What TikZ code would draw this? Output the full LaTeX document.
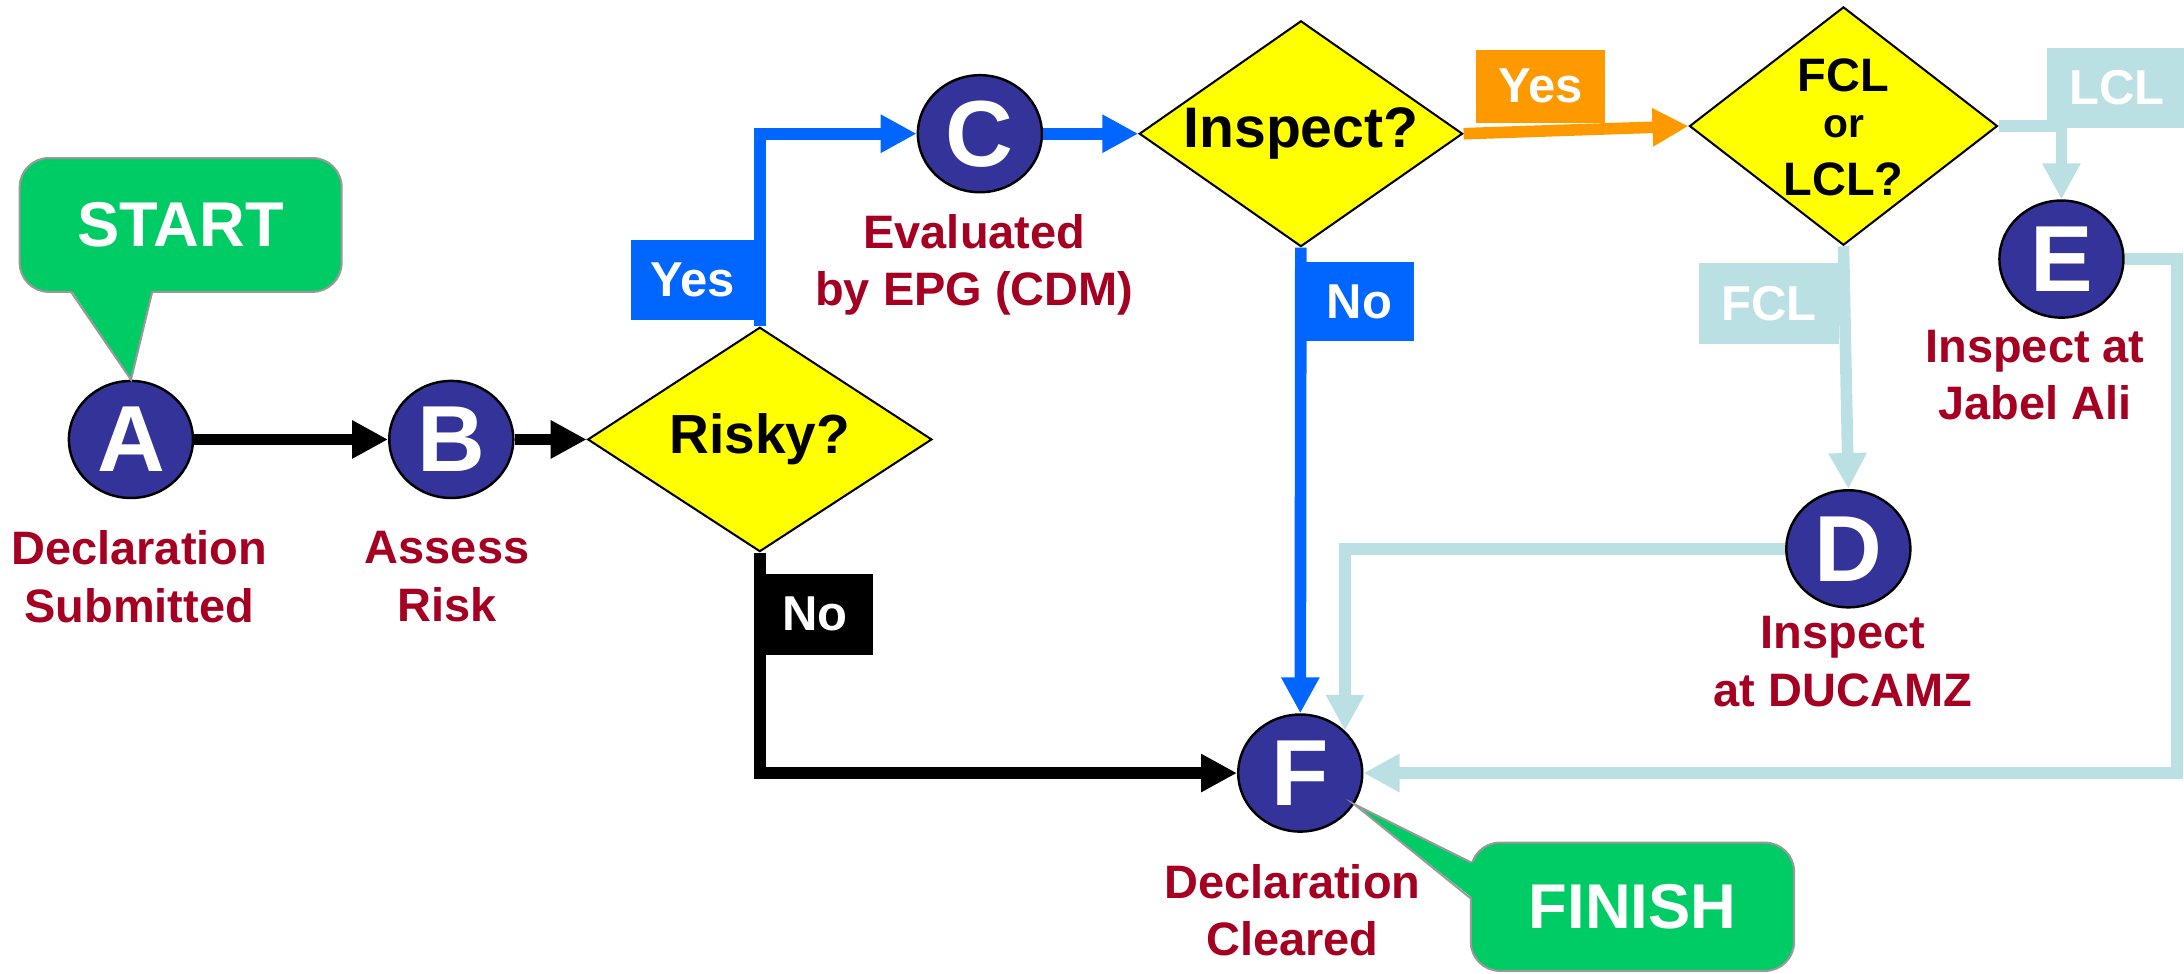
\documentclass[tikz,border=0pt]{standalone}
\usepackage{fontspec}
\setmainfont{Liberation Sans}
\usetikzlibrary{shapes.geometric,arrows.meta}
\definecolor{stagefill}{HTML}{333399}
\definecolor{capred}{HTML}{A50021}
\definecolor{askyellow}{HTML}{FFFF00}
\definecolor{yesblue}{HTML}{0066FF}
\definecolor{yesorange}{HTML}{FF9900}
\definecolor{portblue}{HTML}{BBE0E3}
\definecolor{callgreen}{HTML}{00CC66}
\tikzset{
	stage/.style={ellipse,draw=black,line width=0.6pt,fill=stagefill,text=white,
		font=\bfseries\fontsize{23}{23}\selectfont,inner sep=0pt,
		minimum width=1.068cm,minimum height=1.008cm},
	ask/.style={diamond,draw=black,line width=0.5pt,fill=askyellow,inner sep=0pt,aspect=1.45,
		font=\bfseries\fontsize{14}{14}\selectfont},
	caption/.style={text=capred,align=center,font=\bfseries\fontsize{11.5}{14}\selectfont},
	tag/.style={fill=#1,text=white,inner sep=0pt,font=\bfseries\fontsize{12}{12}\selectfont},
	callbox/.style={rounded corners=0.25cm,fill=callgreen,draw=gray!80,line width=0.5pt,
		text=white,font=\bfseries\fontsize{15.5}{15.5}\selectfont},
	flow/.style={line width=0.1cm,-{Triangle[length=0.31cm,width=0.31cm]}},
}
\begin{document}
\begin{tikzpicture}[x=0.012cm,y=-0.012cm]
	\useasboundingbox (0,0) rectangle (1568,699);

	% stages
	\node[stage] (A) at (94,315.5) {A};
	\node[stage] (B) at (324,315.5) {B};
	\node[stage] (C) at (703.5,96) {C};
	\node[stage] (D) at (1327,394) {D};
	\node[stage] (E) at (1480,186) {E};
	\node[stage] (F) at (933.5,555) {F};

	% questions
	\node[ask,minimum width=2.964cm,minimum height=1.932cm,font=\bfseries\fontsize{13.5}{13.5}\selectfont] (risky) at (545.5,315.5) {Risky?};
	\node[ask,minimum width=2.784cm,minimum height=1.944cm] (inspect) at (934,96) {Inspect?};
	\node[ask,aspect=1.3,minimum width=2.652cm,minimum height=2.052cm] (fcl) at (1323.5,90.5) {};
	\node[font=\bfseries\fontsize{11.5}{11.5}\selectfont,inner sep=0pt,anchor=base] (fclTxt) at (1323.5,66) {FCL};
	\node[font=\bfseries\fontsize{10}{10}\selectfont,inner sep=0pt,anchor=base] (orTxt) at (1323.5,99) {or};
	\node[font=\bfseries\fontsize{11.5}{11.5}\selectfont,inner sep=0pt,anchor=base] (lclTxt) at (1323.5,140) {LCL?};

	% captions
	\node[caption] (capA) at (100,414) {Declaration\\Submitted};
	\node[caption] (capB) at (321,414) {Assess\\Risk};
	\node[caption] (capC) at (699.5,190) {Evaluated\\by EPG (CDM)};
	\node[caption] (capD) at (1323,475) {Inspect\\at DUCAMZ};
	\node[caption] (capE) at (1461,269.5) {Inspect at\\Jabel Ali};
	\node[caption] (capF) at (928,653.5) {Declaration\\Cleared};

	% connectors
	\draw[flow] (A) -- (B);
	\draw[flow] (B) -- (risky);
	\draw[flow,yesblue] (risky.north) |- (C);
	\draw[flow,yesblue] (C) -- (inspect);
	\draw[flow,yesblue] (inspect) -- (F);
	\draw[flow] (risky.south) |- (F);
	\draw[flow,yesorange] (inspect.east) -- (fcl.west);
	\draw[flow,portblue] (fcl.south) -- (D.north);
	\draw[flow,portblue] (fcl.east) -| (E.north);
	\coordinate (eturn) at (1563,186);
	\draw[flow,portblue] (E.east) -- (eturn) |- (F.east);
	\draw[flow,portblue] (D.west) -| (F.north east);

	% tags on the connectors
	\node[tag=yesblue,minimum width=1.056cm,minimum height=0.696cm] (yesRisky) at (497,201) {Yes};
	\node[tag=black,minimum width=0.996cm,minimum height=0.696cm] (noRisky) at (585,441) {No};
	\node[tag=yesblue,minimum width=0.936cm,minimum height=0.684cm] (noInspect) at (976,216.5) {No};
	\node[tag=yesorange,minimum width=1.104cm,minimum height=0.63cm] (yesInspect) at (1106,62) {Yes};
	\node[tag=portblue,minimum width=1.2cm,minimum height=0.696cm] (fclTag) at (1270,218) {FCL};
	\node[tag=portblue,minimum width=1.2cm,minimum height=0.69cm] (lclTag) at (1520,63) {LCL};

	% start and finish callouts
	\node[callbox,minimum width=2.772cm,minimum height=1.152cm] (start) at (129.7,161.5) {START};
	\fill[callgreen] ([xshift=0.45cm,yshift=0.03cm]start.south west) -- ([shift={(0.04,-0.06)}]A.north)
		-- ([xshift=1.15cm,yshift=0.03cm]start.south west) -- cycle;
	\draw[gray!80,line width=0.5pt] ([xshift=0.45cm,yshift=0.01cm]start.south west) -- ([shift={(0.04,-0.06)}]A.north)
		-- ([xshift=1.15cm,yshift=0.01cm]start.south west);
	\node[callbox,minimum width=2.784cm,minimum height=1.104cm] (finish) at (1172,651) {FINISH};
	\fill[callgreen] ([xshift=0.03cm,yshift=-0.18cm]finish.north west) -- (F.-30)
		-- ([xshift=0.03cm,yshift=-0.49cm]finish.north west) -- cycle;
	\draw[gray!80,line width=0.5pt] ([xshift=0.01cm,yshift=-0.18cm]finish.north west) -- (F.-30)
		-- ([xshift=0.01cm,yshift=-0.49cm]finish.north west);
\end{tikzpicture}
\end{document}
